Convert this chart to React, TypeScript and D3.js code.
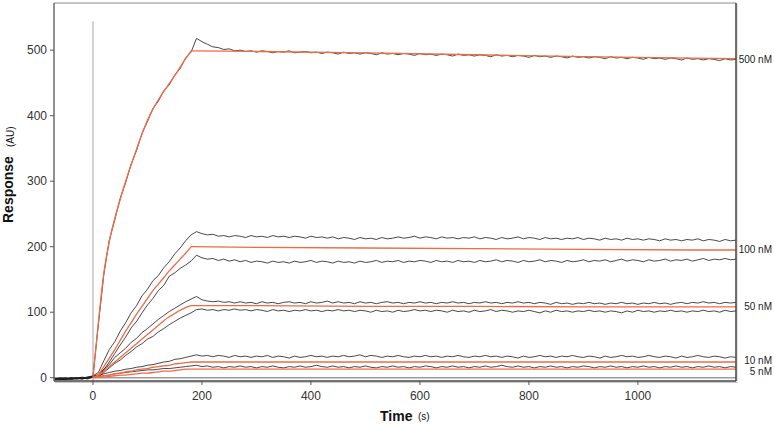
import React from 'react';
import * as d3 from 'd3';

// sampling times of the measured traces (s)
const times = [
  -70, -60, -50, -40, -30, -20, -10, 0,
  10, 20, 30, 40, 50, 60, 70, 80, 90, 100, 110, 120, 130, 140, 150, 160, 170, 180,
  190, 200, 210, 220, 230, 240, 250, 260, 270, 280,
  290, 300, 310, 320, 330, 340, 350, 360, 370, 380,
  390, 400, 410, 420, 430, 440, 450, 460, 470, 480,
  490, 500, 510, 520, 530, 540, 550, 560, 570, 580,
  590, 600, 610, 620, 630, 640, 650, 660, 670, 680,
  690, 700, 710, 720, 730, 740, 750, 760, 770, 780,
  790, 800, 810, 820, 830, 840, 850, 860, 870, 880,
  890, 900, 910, 920, 930, 940, 950, 960, 970, 980,
  990, 1000, 1010, 1020, 1030, 1040, 1050, 1060, 1070, 1080,
  1090, 1100, 1110, 1120, 1130, 1140, 1150, 1160, 1170, 1180,
];

// measured responses (AU)
const black500 = [
  -3, -2, -3, -1, -2, 0, -1, 2,
  82, 158, 210, 241, 274, 298, 326, 347, 373, 391, 411, 422, 438, 447, 462, 472, 488, 497,
  518, 513, 509, 505, 504, 501, 502, 499, 500, 498,
  499, 497, 499, 498, 496, 498, 497, 499, 496, 497,
  498, 496, 497, 495, 497, 496, 494, 497, 495, 496,
  494, 496, 495, 493, 496, 494, 495, 493, 495, 494,
  492, 495, 493, 494, 492, 494, 493, 491, 494, 492,
  493, 491, 493, 492, 490, 493, 491, 492, 490, 492,
  491, 489, 492, 490, 491, 489, 491, 490, 488, 491,
  489, 490, 488, 490, 489, 487, 490, 488, 489, 487,
  489, 488, 486, 489, 487, 488, 486, 488, 487, 485,
  488, 486, 487, 485, 487, 486, 484, 487, 485, 486,
];

const black100a = [
  -1, -3, -2, 0, -2, -1, 1, 3,
  8, 26, 43, 55, 71, 84, 99, 110, 125, 135, 148, 156, 168, 177, 189, 198, 209, 218,
  223, 220, 218, 219, 216, 217, 215, 217, 216, 214,
  217, 215, 216, 214, 217, 215, 216, 214, 216, 215,
  213, 216, 214, 215, 213, 215, 212, 214, 213, 211,
  214, 212, 213, 211, 214, 212, 213, 215, 213, 214,
  216, 213, 215, 214, 212, 215, 213, 214, 212, 214,
  213, 215, 212, 214, 213, 211, 214, 212, 213, 215,
  212, 214, 213, 211, 214, 212, 213, 211, 213, 212,
  214, 211, 213, 212, 210, 213, 211, 212, 210, 213,
  211, 212, 210, 212, 211, 209, 212, 210, 211, 209,
  211, 210, 212, 209, 211, 210, 208, 211, 209, 210,
];

const black100b = [
  -2, -1, -3, -1, 0, -2, 0, 1,
  2, 12, 24, 37, 50, 62, 76, 86, 99, 111, 121, 133, 141, 155, 160, 167, 172, 178,
  187, 183, 181, 182, 179, 181, 178, 180, 177, 179,
  176, 178, 177, 175, 178, 176, 177, 175, 178, 176,
  177, 179, 176, 178, 177, 175, 178, 176, 177, 175,
  178, 176, 177, 179, 176, 178, 177, 179, 176, 178,
  177, 179, 178, 176, 179, 177, 178, 176, 179, 177,
  178, 176, 179, 177, 178, 180, 177, 179, 178, 176,
  179, 177, 178, 180, 177, 179, 178, 176, 179, 177,
  178, 180, 177, 179, 178, 180, 177, 179, 181, 178,
  180, 179, 177, 180, 178, 179, 181, 178, 180, 179,
  181, 178, 180, 182, 179, 181, 180, 182, 180, 181,
];

const black50a = [
  -1, -2, 0, -2, -1, 1, -1, 2,
  5, 13, 20, 31, 38, 45, 54, 60, 69, 75, 82, 89, 95, 101, 106, 111, 116, 120,
  124, 119, 117, 116, 117, 115, 116, 114, 116, 114,
  115, 113, 116, 114, 115, 113, 115, 116, 114, 115,
  113, 116, 114, 115, 117, 114, 116, 114, 115, 113,
  116, 114, 115, 113, 115, 116, 114, 115, 113, 115,
  114, 116, 114, 115, 113, 115, 114, 116, 114, 115,
  113, 115, 114, 116, 114, 115, 113, 115, 114, 116,
  114, 115, 113, 115, 114, 112, 115, 113, 114, 112,
  114, 113, 115, 113, 114, 112, 114, 113, 115, 113,
  114, 112, 114, 113, 115, 113, 114, 112, 114, 115,
  113, 115, 114, 116, 114, 115, 113, 115, 114, 115,
];

const black50b = [
  -2, 0, -1, -3, -1, 0, -2, 1,
  1, 8, 15, 22, 27, 34, 40, 47, 52, 59, 63, 70, 75, 81, 86, 91, 95, 99,
  104, 105, 103, 104, 102, 104, 103, 105, 103, 104,
  102, 104, 103, 101, 104, 102, 103, 101, 103, 102,
  104, 102, 103, 101, 103, 102, 104, 102, 103, 101,
  103, 102, 100, 103, 101, 102, 100, 103, 101, 102,
  104, 102, 103, 101, 103, 102, 100, 103, 101, 102,
  100, 103, 101, 102, 104, 101, 103, 102, 100, 102,
  101, 103, 101, 99, 102, 100, 103, 101, 102, 100,
  102, 101, 103, 101, 102, 100, 102, 101, 99, 102,
  100, 103, 101, 102, 100, 102, 101, 103, 101, 102,
  100, 102, 101, 103, 101, 102, 100, 103, 101, 102,
];

const black10 = [
  -1, -3, -1, -2, 0, -1, 1, 2,
  3, 6, 8, 10, 11, 13, 14, 16, 17, 19, 20, 22, 24, 25, 28, 29, 31, 33,
  35, 33, 34, 32, 34, 33, 31, 34, 32, 33,
  31, 33, 32, 34, 31, 33, 32, 30, 33, 31,
  32, 34, 32, 33, 31, 33, 32, 34, 32, 33,
  35, 32, 34, 33, 31, 33, 32, 34, 32, 31,
  33, 32, 34, 32, 33, 31, 33, 32, 34, 32,
  31, 33, 32, 34, 32, 33, 31, 33, 32, 30,
  33, 31, 32, 34, 32, 33, 31, 33, 32, 34,
  32, 31, 33, 32, 30, 33, 31, 32, 34, 32,
  33, 31, 32, 34, 32, 31, 33, 32, 30, 33,
  31, 32, 34, 32, 31, 33, 32, 30, 32, 31,
];

const black5 = [
  -2, -1, -2, 0, -1, -2, 0, 1,
  1, 3, 4, 6, 7, 8, 9, 10, 11, 12, 12, 13, 14, 14, 15, 16, 17, 18,
  19, 17, 18, 16, 17, 15, 17, 16, 18, 16,
  17, 15, 17, 16, 18, 16, 15, 17, 16, 18,
  16, 17, 19, 17, 16, 18, 16, 17, 15, 17,
  16, 18, 16, 15, 17, 16, 18, 16, 17, 15,
  17, 16, 18, 17, 15, 17, 16, 18, 16, 17,
  15, 17, 16, 18, 16, 17, 19, 17, 16, 18,
  16, 17, 15, 17, 16, 18, 16, 17, 15, 17,
  16, 18, 17, 15, 17, 16, 18, 16, 17, 15,
  17, 16, 18, 16, 17, 15, 17, 16, 18, 16,
  17, 15, 17, 16, 18, 16, 17, 15, 17, 16,
];

// fitted curves (AU), association 0-180 s then dissociation
const assocTimes = [0, 10, 20, 30, 40, 50, 60, 70, 80, 90, 100, 110, 120, 130, 140, 150, 160, 170, 180];
const dissocTimes = [180, 300, 500, 700, 900, 1100, 1180];
const fit500a = [0, 85, 160, 208, 243, 272, 300, 325, 349, 372, 393, 410, 424, 437, 449, 461, 474, 487, 499];
const fit500d = [499, 498, 496, 493, 490, 488, 487];
const fit100a = [0, 5, 17, 30, 43, 57, 71, 84, 97, 109, 121, 133, 143, 153, 163, 172, 181, 190, 200];
const fit100d = [200, 199, 198, 197, 196, 195, 195];
const fit50a = [0, 3, 10, 17, 24, 31, 38, 45, 52, 59, 66, 73, 80, 87, 93, 98, 103, 107, 110];
const fit50d = [110, 110, 109, 109, 108, 108, 108];
const fit10a = [0, 1, 3, 4, 6, 7, 9, 10, 12, 13, 14, 16, 17, 18, 19, 21, 22, 23, 24];
const fit10d = [24, 24, 24, 24, 24, 24, 24];
const fit5a = [0, 1, 1, 2, 3, 4, 4, 5, 6, 7, 7, 8, 9, 10, 10, 11, 12, 13, 13];
const fit5d = [13, 13, 13, 13, 13, 13, 13];

const concLabels = ['500 nM', '100 nM', '50 nM', '10 nM', '5 nM'];
const concLabelAt = [486, 195, 108, 26, 9];
const xTicks = [0, 200, 400, 600, 800, 1000];
const yTicks = [0, 100, 200, 300, 400, 500];

const W = 774;
const H = 425;
const font = 'Arial, "Liberation Sans", sans-serif';

export default function App() {
  const x = d3.scaleLinear().domain([-71.5, 1180]).range([54, 736]);
  const y = d3.scaleLinear().domain([-5, 572]).range([381, 3]);

  const line = d3.line<[number, number]>()
    .x(d => x(d[0]))
    .y(d => y(d[1]));
  const smooth = d3.line<[number, number]>()
    .x(d => x(d[0]))
    .y(d => y(d[1]))
    .curve(d3.curveMonotoneX);

  const blacks = [black500, black100a, black100b, black50a, black50b, black10, black5];
  const fits = [
    [fit500a, fit500d], [fit100a, fit100d], [fit50a, fit50d], [fit10a, fit10d], [fit5a, fit5d],
  ];

  const [x0, x1] = x.range();
  const [y0, y1] = y.range();

  return (
    <svg width={W} height={H} style={{ position: 'absolute', left: 0, top: 0, background: '#fff' }} fontFamily={font}>
      <defs>
        <clipPath id="plot">
          <rect x={x0} y={y1} width={x1 - x0} height={y0 - y1} />
        </clipPath>
      </defs>

      {/* zero baseline and injection marker */}
      <line x1={x0} x2={x1} y1={y(0)} y2={y(0)} stroke="#9c9c9c" strokeWidth={1.5} />
      <line x1={x(0)} x2={x(0)} y1={y0} y2={y(544)} stroke="#d2d2d2" strokeWidth={2} />

      <g clipPath="url(#plot)" fill="none">
        {blacks.map((vals, i) => (
          <path key={'b' + i} d={line(times.map((t, j) => [t, vals[j]] as [number, number])) || ''}
            stroke="#1b1b1b" strokeWidth={0.8} strokeLinejoin="round" />
        ))}
        {fits.map(([a, dv], i) => (
          <g key={'f' + i} stroke="#ef6a45" strokeWidth={1.3}>
            <path d={smooth(assocTimes.map((t, j) => [t, a[j]] as [number, number])) || ''} />
            <path d={line(dissocTimes.map((t, j) => [t, dv[j]] as [number, number])) || ''} />
          </g>
        ))}
      </g>

      {/* frame */}
      <line x1={x0} x2={x1} y1={y1} y2={y1} stroke="#8a8a8a" strokeWidth={1} />
      <line x1={x0} x2={x0} y1={y1} y2={y0} stroke="#555" strokeWidth={1.3} />
      <line x1={x1 + 1} x2={x1 + 1} y1={y1 + 1} y2={y0 + 2} stroke="#c8c8c8" strokeWidth={1} />
      <line x1={x0 + 1} x2={x1 + 1} y1={y0 + 1.5} y2={y0 + 1.5} stroke="#c8c8c8" strokeWidth={1} />
      <line x1={x1} x2={x1} y1={y1} y2={y0} stroke="#444" strokeWidth={1.5} />
      <line x1={x0} x2={x1} y1={y0} y2={y0} stroke="#444" strokeWidth={1.5} />

      {/* y axis */}
      {yTicks.map(v => (
        <g key={'y' + v}>
          <line x1={x0 - 4} x2={x0} y1={y(v)} y2={y(v)} stroke="#555" />
          <text x={x0 - 7} y={y(v)} dy="0.35em" textAnchor="end" fontSize={12} fill="#333">{v}</text>
        </g>
      ))}
      {/* x axis */}
      {xTicks.map(v => (
        <g key={'x' + v}>
          <line x1={x(v)} x2={x(v)} y1={y0} y2={y0 + 4} stroke="#555" />
          <text x={x(v)} y={399.5} textAnchor="middle" fontSize={12} fill="#333">{v}</text>
        </g>
      ))}

      {/* axis titles */}
      <text x={380} y={421} fontSize={14} fontWeight="bold" fill="#111">Time</text>
      <text x={418} y={420} fontSize={10} fill="#111">(s)</text>
      <text transform="translate(13,223) rotate(-90)" fontSize={14} fontWeight="bold" fill="#111">Response</text>
      <text transform="translate(13.5,147) rotate(-90)" fontSize={10} fill="#111">(AU)</text>

      {/* concentration labels */}
      {concLabels.map((lab, i) => (
        <text key={lab} x={772} y={y(concLabelAt[i])} dy="0.35em" textAnchor="end" fontSize={10} fill="#222">{lab}</text>
      ))}
    </svg>
  );
}
